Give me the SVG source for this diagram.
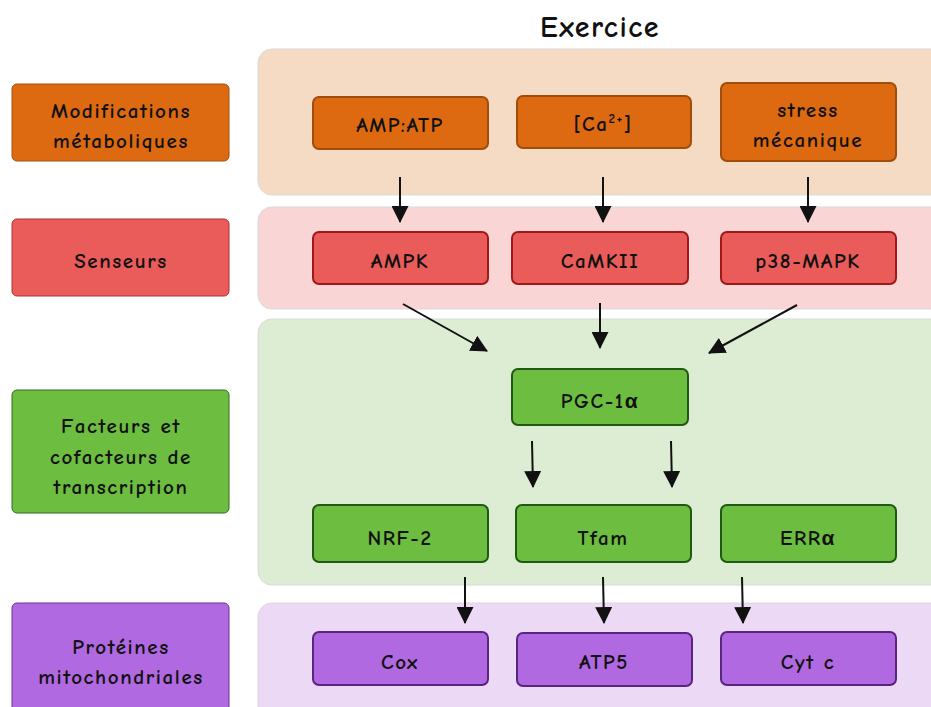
<svg xmlns="http://www.w3.org/2000/svg" width="931" height="707" viewBox="0 0 931 707">
<defs>
<marker id="ah" viewBox="0 0 16 16" refX="15" refY="8" markerWidth="17" markerHeight="17" markerUnits="userSpaceOnUse" orient="auto">
<path d="M0,0 L16,8 L0,16 Z" fill="#111"/>
</marker>
</defs>
<style>
text{font-family:"Comic Neue","Liberation Sans","DejaVu Sans",sans-serif;font-size:21px;font-weight:bold;letter-spacing:1.6px;fill:#111;text-anchor:middle;dominant-baseline:central}
.band{stroke:#d9d9d9;stroke-width:1}
.lab{stroke-width:1}
.n{stroke-width:2}
.o{fill:#dd6a10}
.lo{stroke:#a5500c}
.no{stroke:#a04c0a}
.r{fill:#e95c5a}
.lr{stroke:#b03030}
.nr{stroke:#a01818}
.g{fill:#6dbd40}
.lg{stroke:#2c6e1c}
.ng{stroke:#1f5a12}
.p{fill:#b069e0}
.lp{stroke:#6a3590}
.np{stroke:#5a2580}
.c{stroke:#111;stroke-width:2;fill:none;marker-end:url(#ah)}
</style>
<rect width="931" height="707" fill="#fff"/>
<text x="600" y="27" style="font-size:30px;letter-spacing:1.5px">Exercice</text>

<g id="bands">
<rect class="band" x="258" y="49" width="690" height="146" rx="14" fill="#f5dbc4"/>
<rect class="band" x="258" y="207" width="690" height="102" rx="14" fill="#f9d6d5"/>
<rect class="band" x="258" y="319" width="690" height="266" rx="14" fill="#dcedd3"/>
<rect class="band" x="258" y="603" width="690" height="130" rx="14" fill="#ebd9f5"/>
</g>

<g id="lab-meta"><rect class="lab o lo" x="12" y="84" width="217" height="77" rx="5"/><text x="121" y="111">Modifications</text><text x="121" y="141">métaboliques</text></g>
<g id="lab-sens"><rect class="lab r lr" x="12" y="219" width="217" height="77" rx="5"/><text x="121" y="261">Senseurs</text></g>
<g id="lab-fact"><rect class="lab g lg" x="12" y="390" width="217" height="123" rx="5"/><text x="121" y="426">Facteurs et</text><text x="121" y="457">cofacteurs de</text><text x="121" y="487">transcription</text></g>
<g id="lab-prot"><rect class="lab p lp" x="12" y="603" width="217" height="130" rx="5"/><text x="121" y="647">Protéines</text><text x="121" y="677">mitochondriales</text></g>

<g id="ampatp"><rect class="n o no" x="313" y="97" width="175" height="52" rx="6"/><text x="400" y="125">AMP:ATP</text></g>
<g id="ca"><rect class="n o no" x="517" y="96" width="174" height="52" rx="6"/><text x="603" y="124">[Ca<tspan dy="-6" style="font-size:13px">2+</tspan><tspan dy="6">]</tspan></text></g>
<g id="stress"><rect class="n o no" x="721" y="83" width="175" height="78" rx="6"/><text x="808" y="110">stress</text><text x="808" y="140">mécanique</text></g>

<g id="ampk"><rect class="n r nr" x="313" y="232" width="175" height="52" rx="6"/><text x="400" y="261">AMPK</text></g>
<g id="camkii"><rect class="n r nr" x="512" y="232" width="176" height="52" rx="6"/><text x="600" y="261">CaMKII</text></g>
<g id="p38"><rect class="n r nr" x="721" y="232" width="175" height="52" rx="6"/><text x="808" y="261">p38-MAPK</text></g>

<g id="pgc"><rect class="n g ng" x="512" y="369" width="176" height="56" rx="6"/><text x="600" y="401">PGC-1α</text></g>

<g id="nrf2"><rect class="n g ng" x="313" y="505" width="175" height="57" rx="6"/><text x="400" y="538">NRF-2</text></g>
<g id="tfam"><rect class="n g ng" x="516" y="505" width="175" height="57" rx="6"/><text x="603" y="538">Tfam</text></g>
<g id="erra"><rect class="n g ng" x="721" y="505" width="175" height="57" rx="6"/><text x="808" y="538">ERRα</text></g>

<g id="cox"><rect class="n p np" x="313" y="632" width="175" height="53" rx="6"/><text x="400" y="662">Cox</text></g>
<g id="atp5"><rect class="n p np" x="517" y="633" width="175" height="53" rx="6"/><text x="604" y="662">ATP5</text></g>
<g id="cytc"><rect class="n p np" x="721" y="632" width="175" height="53" rx="6"/><text x="808" y="662">Cyt c</text></g>

<g id="connectors">
<path class="c" d="M400,177 L400,222"/>
<path class="c" d="M603,177 L603,222"/>
<path class="c" d="M808,177 L808,222"/>
<path class="c" d="M403,304 L487,351"/>
<path class="c" d="M600,303 L600,348"/>
<path class="c" d="M797,305 L709,353"/>
<path class="c" d="M532,441 L533,487"/>
<path class="c" d="M671,441 L672,487"/>
<path class="c" d="M465,577 L465,623"/>
<path class="c" d="M603,577 L604,623"/>
<path class="c" d="M742,577 L743,623"/>
</g>
</svg>
